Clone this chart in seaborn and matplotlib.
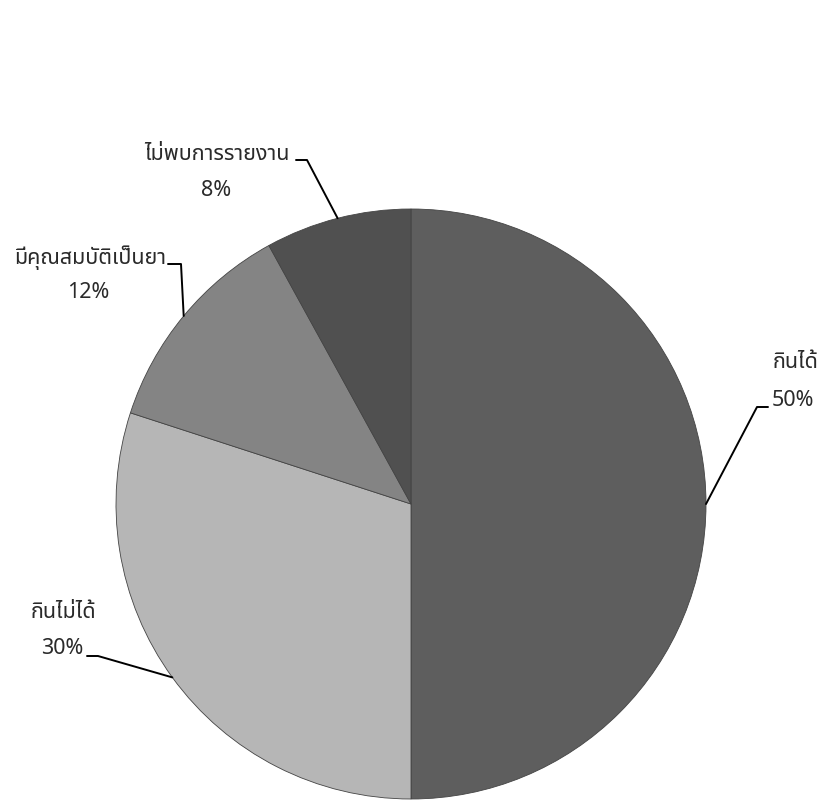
import numpy as np
import matplotlib.pyplot as plt
import seaborn as sns

# ข้อมูล
labels = ["กินได้", "กินไม่ได้", "มีคุณสมบัติเป็นยา", "ไม่พบการรายงาน"]
values = [50, 30, 12, 8]
colors = ["#5e5e5e", "#b6b6b6", "#848484", "#505050"]

sns.set_theme(style="white")
plt.rcParams['font.family'] = ['Noto Sans Thai', 'Loma', 'Garuda', 'DejaVu Sans']

W, H = 818, 801
fig = plt.figure(figsize=(W / 100, H / 100), dpi=100)
ax = fig.add_axes([0, 0, 1, 1])

cx, cy, r = 411, H - 504, 295
wedges, _ = ax.pie(values, colors=colors, startangle=90, counterclock=False,
                   center=(cx, cy), radius=r, frame=True,
                   wedgeprops=dict(edgecolor="#444444", linewidth=0.6))
ax.set_xlim(0, W)
ax.set_ylim(0, H)
ax.set_aspect('equal')
ax.axis('off')

# ตำแหน่งป้ายกำกับ (พิกเซล): ข้อความ (ขอบขวา), เปอร์เซ็นต์ (กึ่งกลาง), เส้นนำ
label_pos = [
    dict(name=(818, 362), pct=(793, 400), elbow=(768, 757, 407)),
    dict(name=(96, 612), pct=(62, 649), elbow=(87, 98, 656)),
    dict(name=(166, 258), pct=(88, 293), elbow=(168, 181, 264)),
    dict(name=(290, 155), pct=(216, 191), elbow=(296, 307, 160)),
]

for w, lab, v, pos in zip(wedges, labels, values, label_pos):
    mid = np.deg2rad((w.theta1 + w.theta2) / 2)
    ax_pt = (cx + r * np.cos(mid), cy + r * np.sin(mid))
    x0, x1, ye = pos['elbow']
    ax.plot([x0, x1, ax_pt[0]], [H - ye, H - ye, ax_pt[1]], color='black', lw=1.4)
    ax.text(pos['name'][0], H - pos['name'][1], lab, ha='right', va='center',
            fontsize=15.5, color='#2a2a2a', fontweight='light')
    ax.text(pos['pct'][0], H - pos['pct'][1], f"{v}%", ha='center', va='center',
            fontsize=15.5, color='#2a2a2a', fontweight='light')

fig.savefig("out.png", dpi=100)
